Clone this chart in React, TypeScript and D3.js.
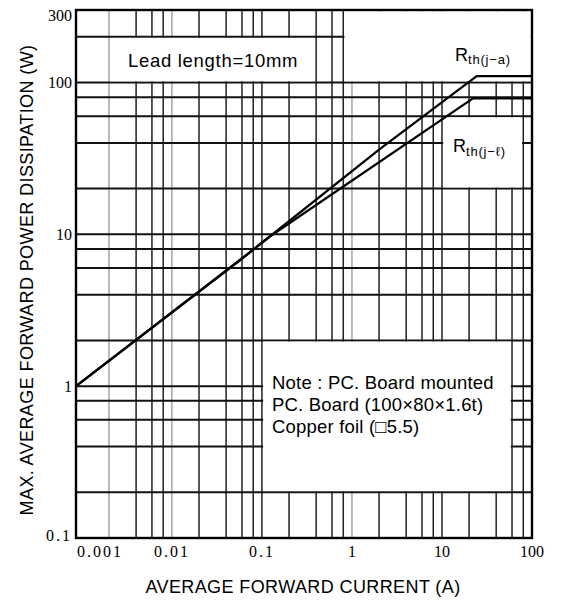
import React from "react";
import * as d3 from "d3";

const W = 561;
const H = 600;

// grid values
const xGridLines = [0.002, 0.004, 0.006, 0.008, 0.01, 0.02, 0.04, 0.06, 0.08, 0.1, 0.2, 0.4, 0.6, 0.8, 1, 2, 4, 6, 8, 10, 20, 40, 60, 80];
const xLightLines = [0.002, 0.01, 1];
const yGridLines = [0.2, 0.4, 0.6, 0.8, 1, 2, 4, 6, 8, 10, 20, 40, 60, 80, 100, 200];

// ticks
const xTicks = [0.001, 0.01, 0.1, 1, 10, 100];
const xTickLabels = ["0.001", "0.01", "0.1", "1", "10", "100"];
const yTicks = [0.1, 1, 10, 100, 300];
const yTickLabels = ["0.1", "1", "10", "100", "300"];

// curves
const rthJaCurrent = [0.00086, 0.0596, 2.05, 24.3, 100];
const rthJaPower = [1, 6.9, 36.5, 110, 110];
const rthJlCurrent = [0.00086, 0.0596, 0.12, 22.1, 100];
const rthJlPower = [1, 6.9, 9.6, 78.6, 78.6];

// white annotation boxes [x0, x1, y0, y1] in data units
const leadBox = [0.002, 0.4, 100, 200];
const rjaBox = [0.8, 100, 100, 300];
const rjlBox = [10, 80, 20, 60];
const noteBox = [0.1, 60, 0.2, 2];

const noteLines = ["Note : PC. Board mounted", "PC. Board (100×80×1.6t)", "Copper foil (□5.5)"];

export default function App() {
  const x = d3.scaleLog().domain([0.00086, 100]).range([76, 532]);
  const y = d3.scaleLog().domain([0.1, 300]).range([538, 10]);
  const line = d3
    .line<[number, number]>()
    .x((d) => x(d[0]))
    .y((d) => y(d[1]));
  const ja: [number, number][] = rthJaCurrent.map((c, i) => [c, rthJaPower[i]]);
  const jl: [number, number][] = rthJlCurrent.map((c, i) => [c, rthJlPower[i]]);

  const boxRect = (b: number[], key: string) => {
    const inset = 1.2;
    const bx0 = x(b[0]) + inset;
    const bx1 = x(b[1]) - inset;
    const by0 = y(b[3]) + inset;
    const by1 = y(b[2]) - inset;
    return <rect key={key} x={bx0} y={by0} width={bx1 - bx0} height={by1 - by0} fill="#fff" />;
  };

  const sans = "'Liberation Sans', Arial, sans-serif";
  const serif = "'Liberation Serif', 'Times New Roman', serif";
  const [x0, x1] = x.range();
  const [y0, y1] = y.range();

  return (
    <svg
      width={W}
      height={H}
      viewBox={`0 0 ${W} ${H}`}
      style={{ position: "absolute", left: 0, top: 0, display: "block", background: "#fff" }}
    >
      <rect x={0} y={0} width={W} height={H} fill="#fff" />
      {/* vertical grid */}
      {xGridLines.map((v) => {
        const light = xLightLines.includes(v);
        return (
          <line
            key={"vx" + v}
            x1={x(v)}
            x2={x(v)}
            y1={y1}
            y2={y0}
            stroke={light ? "#777" : "#111"}
            strokeWidth={light ? 1 : 1.4}
          />
        );
      })}
      {/* horizontal grid */}
      {yGridLines.map((v) => (
        <line key={"hy" + v} x1={x0} x2={x1} y1={y(v)} y2={y(v)} stroke="#111" strokeWidth={2} />
      ))}
      {/* annotation boxes */}
      {boxRect(leadBox, "lead")}
      {boxRect(rjaBox, "rja")}
      {boxRect(rjlBox, "rjl")}
      {boxRect(noteBox, "note")}
      {/* curves */}
      <path d={line(ja) || ""} fill="none" stroke="#000" strokeWidth={2.3} strokeLinejoin="round" />
      <path d={line(jl) || ""} fill="none" stroke="#000" strokeWidth={2.3} strokeLinejoin="round" />
      {/* frame */}
      <rect x={x0} y={y1} width={x1 - x0} height={y0 - y1} fill="none" stroke="#000" strokeWidth={2.4} />

      {/* y tick labels */}
      {yTicks.map((v, i) => {
        const off = v === 300 ? 5 : v === 0.1 ? -3 : 0;
        const lbl = yTickLabels[i];
        return (
          <text
            key={"yt" + v}
            x={72}
            y={y(v) + off}
            textAnchor="end"
            dominantBaseline="central"
            fontFamily={serif}
            fontSize={16}
            letterSpacing={lbl.includes(".") ? 2 : 0}
            fill="#000"
          >
            {lbl}
          </text>
        );
      })}
      {/* x tick labels */}
      {xTicks.map((v, i) => {
        const lbl = xTickLabels[i];
        const first = i === 0;
        return (
          <text
            key={"xt" + v}
            x={first ? x0 + 1 : x(v)}
            y={557}
            textAnchor={first ? "start" : "middle"}
            fontFamily={serif}
            fontSize={16}
            letterSpacing={lbl.includes(".") ? 2 : 0}
            fill="#000"
          >
            {lbl}
          </text>
        );
      })}

      {/* axis titles */}
      <text
        x={303}
        y={593}
        textAnchor="middle"
        fontFamily={sans}
        fontSize={18}
        letterSpacing={0.4}
        fill="#000"
      >
        AVERAGE FORWARD CURRENT (A)
      </text>
      <text
        transform="translate(33,280) rotate(-90)"
        textAnchor="middle"
        fontFamily={sans}
        fontSize={18}
        letterSpacing={0.4}
        fill="#000"
      >
        MAX. AVERAGE FORWARD POWER DISSIPATION (W)
      </text>

      {/* annotations */}
      <text x={128} y={67} fontFamily={sans} fontSize={18.5} letterSpacing={0.7} fill="#000">
        Lead length=10mm
      </text>
      <text x={455} y={61} fontFamily={sans} fontSize={18} fill="#000">
        R
        <tspan fontSize={13} dy={3} letterSpacing={0.8}>
          th(j−a)
        </tspan>
      </text>
      <text x={453} y={152} fontFamily={sans} fontSize={18} fill="#000">
        R
        <tspan fontSize={13} dy={4} letterSpacing={0.8}>
          th(j−ℓ)
        </tspan>
      </text>
      {noteLines.map((t, i) => (
        <text key={"n" + i} x={272} y={389 + i * 22.2} fontFamily={sans} fontSize={18.5} letterSpacing={0.2} fill="#000">
          {t}
        </text>
      ))}
    </svg>
  );
}
